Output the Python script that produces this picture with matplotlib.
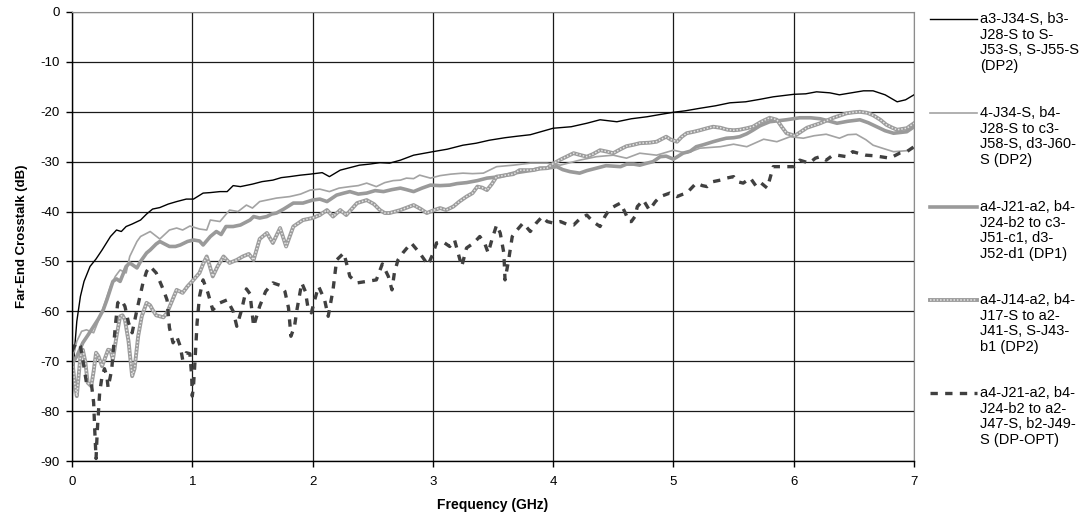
import matplotlib
matplotlib.use("Agg")
import matplotlib.pyplot as plt
from matplotlib.lines import Line2D

plt.rcParams['font.family'] = ['Liberation Sans', 'DejaVu Sans']
plt.rcParams['axes.unicode_minus'] = False

# series: a3-J34-S, b3-J28-S to S-J53-S, S-J55-S (DP2)
f_a = [0, 0.02, 0.04, 0.07, 0.1, 0.15, 0.2, 0.25, 0.32, 0.37, 0.41, 0.45, 0.5, 0.57, 0.62,
       0.67, 0.73, 0.8, 0.87, 0.95, 1.01, 1.09, 1.15, 1.23, 1.29, 1.34, 1.4, 1.5, 1.58, 1.67,
       1.74, 1.81, 1.9, 1.98, 2.08, 2.14, 2.23, 2.31, 2.39, 2.47, 2.56, 2.64, 2.73, 2.84, 3.0,
       3.12, 3.25, 3.36, 3.47, 3.6, 3.7, 3.81, 4.0, 4.15, 4.28, 4.39, 4.53, 4.65, 4.78, 4.9,
       5.0, 5.1, 5.22, 5.35, 5.47, 5.6, 5.72, 5.83, 6.0, 6.1, 6.19, 6.3, 6.38, 6.48, 6.58,
       6.66, 6.76, 6.86, 6.93, 7.0]
db_a = [-78, -68, -62, -57, -54, -51, -49.5, -47.7, -45, -43.7, -44, -43, -42.5, -41.7, -40.5,
        -39.5, -39.2, -38.5, -38, -37.5, -37.5, -36.3, -36.2, -36, -36, -34.8, -35, -34.5, -34, -33.7,
        -33.2, -33, -32.7, -32.5, -32.2, -33, -31.7, -31.2, -30.7, -30.5, -30.2, -30.3, -29.7, -28.7, -28,
        -27.5, -26.7, -26.3, -25.7, -25.2, -24.9, -24.6, -23.3, -23, -22.3, -21.6, -22, -21.4, -21, -20.5,
        -20.1, -19.8, -19.3, -18.8, -18.2, -18, -17.5, -17, -16.5, -16.4, -16, -16.2, -16.6, -16.2, -15.8,
        -15.8, -16.6, -18, -17.6, -16.6]

# series: 4-J34-S, b4-J28-S to c3-J58-S, d3-J60-S (DP2)
f_b = [0, 0.04, 0.08, 0.12, 0.18, 0.25, 0.32, 0.36, 0.4, 0.45, 0.48, 0.54, 0.57, 0.65, 0.73,
       0.81, 0.87, 0.92, 0.98, 1.06, 1.12, 1.15, 1.23, 1.31, 1.38, 1.45, 1.5, 1.56, 1.62, 1.7,
       1.81, 1.9, 1.98, 2.06, 2.14, 2.22, 2.31, 2.38, 2.45, 2.53, 2.6, 2.67, 2.73, 2.78, 2.84,
       2.89, 2.98, 3.06, 3.15, 3.25, 3.33, 3.42, 3.53, 3.67, 3.81, 3.95, 4.06, 4.14, 4.22, 4.36,
       4.5, 4.61, 4.72, 4.86, 5.0, 5.11, 5.22, 5.39, 5.5, 5.61, 5.75, 5.86, 5.97, 6.08, 6.17,
       6.27, 6.38, 6.45, 6.52, 6.6, 6.66, 6.75, 6.83, 6.94, 7.0]
db_b = [-69.7, -66, -64, -63.7, -64.3, -60, -55, -53, -51.7, -52.3, -49, -46, -45, -44, -45.5,
        -43.7, -43.3, -43.7, -42.9, -43.5, -43.7, -41.7, -42, -39.7, -40, -38.7, -39.3, -38, -37.7, -37.3,
        -37, -36.5, -35.7, -35.5, -36, -35.3, -35, -34.8, -34.3, -35, -34.2, -33.8, -33.7, -33.3, -33.4,
        -32.7, -33.3, -32.8, -32.5, -32.3, -32.4, -32.3, -31, -30.7, -30.3, -30.3, -30.7, -30.2, -29.7, -29,
        -28.7, -29.3, -28.3, -28.7, -27.7, -28.3, -27.3, -27, -26.5, -27, -25.5, -26, -25, -25.3, -24.8,
        -24.5, -25.3, -24.6, -24.5, -25.6, -26.7, -27.4, -28, -27.8, -27.3]

# series: a4-J21-a2, b4-J24-b2 to c3-J51-c1, d3-J52-d1 (DP1)
f_c = [0, 0.04, 0.09, 0.14, 0.18, 0.22, 0.26, 0.29, 0.34, 0.37, 0.4, 0.45, 0.48, 0.54, 0.57,
       0.62, 0.65, 0.7, 0.73, 0.77, 0.81, 0.86, 0.9, 0.96, 1.01, 1.06, 1.09, 1.15, 1.2, 1.24,
       1.28, 1.34, 1.4, 1.44, 1.48, 1.51, 1.56, 1.62, 1.66, 1.7, 1.76, 1.84, 1.92, 2.0, 2.06,
       2.12, 2.2, 2.26, 2.31, 2.38, 2.45, 2.52, 2.59, 2.66, 2.73, 2.78, 2.84, 2.91, 2.98, 3.06,
       3.14, 3.2, 3.28, 3.37, 3.45, 3.56, 3.67, 3.75, 3.83, 3.89, 3.95, 4.03, 4.08, 4.14, 4.22,
       4.28, 4.36, 4.44, 4.5, 4.56, 4.61, 4.67, 4.72, 4.78, 4.83, 4.89, 4.94, 5.0, 5.08, 5.14,
       5.19, 5.25, 5.33, 5.39, 5.44, 5.5, 5.55, 5.61, 5.66, 5.72, 5.8, 5.87, 5.94, 6.05, 6.14,
       6.22, 6.3, 6.36, 6.45, 6.55, 6.62, 6.69, 6.76, 6.83, 6.94, 7.0]
db_c = [-70.5, -69, -66.3, -64.5, -63, -61.5, -59.7, -57.7, -54, -53.5, -54, -51, -50.3, -51.3, -50,
        -48.3, -47.7, -46.5, -46, -46.5, -47, -47, -46.7, -46, -45.7, -45.9, -46.7, -45, -44, -44.6,
        -43, -43, -42.7, -42.2, -41.7, -41, -41.3, -41, -40.5, -40.3, -39.5, -38.3, -38.3, -37.7, -37.5,
        -38, -36.7, -36.3, -36, -36.5, -36.3, -35.8, -36, -35.6, -35.3, -35.6, -36, -35.3, -34.7, -34.8,
        -34.7, -34.4, -34.2, -33.8, -33.3, -33, -32.3, -32, -31.7, -31.3, -31.3, -31, -31.6, -32, -32.3,
        -31.8, -31.3, -30.8, -30.9, -31, -30.5, -30.5, -30.7, -30.3, -30, -29, -28.9, -29.5, -28.3, -27.9,
        -27, -26.6, -26, -25.6, -25.3, -25.2, -25, -24.4, -23.7, -22.8, -22, -21.8, -21.6, -21.2, -21.2,
        -21.4, -21.9, -22.3, -21.9, -21.6, -22.2, -23, -23.8, -24.3, -24, -23]

# series: a4-J14-a2, b4-J17-S to a2-J41-S, S-J43-b1 (DP2)
f_d = [0, 0.02, 0.04, 0.055, 0.07, 0.09, 0.11, 0.13, 0.16, 0.18, 0.2, 0.22, 0.25, 0.28, 0.3,
       0.32, 0.34, 0.37, 0.4, 0.42, 0.44, 0.47, 0.5, 0.52, 0.55, 0.58, 0.62, 0.65, 0.67, 0.7,
       0.73, 0.76, 0.79, 0.83, 0.87, 0.92, 0.96, 1.01, 1.06, 1.09, 1.12, 1.14, 1.17, 1.21, 1.26,
       1.31, 1.37, 1.42, 1.47, 1.51, 1.56, 1.62, 1.67, 1.73, 1.78, 1.84, 1.92, 2.0, 2.06, 2.12,
       2.17, 2.23, 2.28, 2.37, 2.45, 2.51, 2.56, 2.6, 2.64, 2.73, 2.84, 2.9, 2.95, 3.0, 3.06,
       3.11, 3.17, 3.22, 3.28, 3.33, 3.37, 3.41, 3.45, 3.49, 3.53, 3.61, 3.67, 3.72, 3.83, 3.89,
       3.95, 4.0, 4.06, 4.12, 4.17, 4.23, 4.28, 4.33, 4.39, 4.45, 4.5, 4.56, 4.61, 4.67, 4.72,
       4.8, 4.86, 4.9, 4.94, 4.98, 5.03, 5.07, 5.11, 5.17, 5.22, 5.28, 5.33, 5.39, 5.45, 5.5,
       5.55, 5.61, 5.66, 5.73, 5.8, 5.86, 5.9, 5.94, 6.01, 6.06, 6.11, 6.17, 6.22, 6.28, 6.33,
       6.39, 6.44, 6.5, 6.55, 6.61, 6.66, 6.72, 6.77, 6.82, 6.86, 6.94, 7.0]
db_d = [-69, -74, -77, -73, -69, -67.7, -70, -74.3, -75, -72, -68.3, -69, -71, -69, -67.7,
        -67.8, -69.7, -65, -61, -60.8, -61.7, -66, -73, -71.5, -65, -61, -58.3, -58.8, -59.7, -60.8,
        -61, -61.2, -60.3, -58, -55.7, -56.3, -55, -53.7, -52.3, -50.5, -49, -50.5, -53, -51, -49,
        -50.3, -49.7, -49, -48.5, -49.7, -45.5, -44.3, -46.3, -43.3, -47, -43, -41.7, -41.3, -40.7, -39.7,
        -41, -39.7, -40.7, -38.3, -37.7, -38.5, -39.7, -40.3, -40.3, -39.7, -38.7, -39.5, -40.3, -39.8, -39.3,
        -39.7, -39, -38, -37, -36.3, -35, -35.2, -35.7, -34.5, -33, -32.7, -32.5, -31.7, -31.7, -31.4,
        -31.3, -30.4, -29.6, -28.9, -28.3, -28.7, -29, -28.5, -27.7, -28, -28.3, -27.5, -26.9, -26.6, -26.3,
        -26.2, -26, -25.5, -25, -25.6, -26, -25, -24.3, -24, -23.7, -23.3, -23, -23.2, -23.6, -23.7,
        -23.6, -23.3, -23, -22, -21.2, -21.6, -23, -24.3, -24.8, -24, -23.2, -22.7, -22.3, -21.7, -21.2,
        -20.7, -20.3, -20.1, -20, -20.2, -20.7, -21.6, -22.6, -23.2, -23.6, -23.3, -22.3]

# series: a4-J21-a2, b4-J24-b2 to a2-J47-S, b2-J49-S (DP-OPT)
f_e = [0, 0.03, 0.05, 0.07, 0.09, 0.12, 0.16, 0.18, 0.19, 0.2, 0.21, 0.22, 0.23, 0.25, 0.27,
       0.29, 0.3, 0.33, 0.36, 0.38, 0.41, 0.44, 0.47, 0.5, 0.54, 0.59, 0.62, 0.65, 0.7, 0.76,
       0.79, 0.81, 0.84, 0.87, 0.9, 0.92, 0.95, 0.98, 0.995, 1.0, 1.01, 1.02, 1.04, 1.06, 1.09,
       1.13, 1.17, 1.23, 1.29, 1.34, 1.37, 1.41, 1.45, 1.48, 1.51, 1.56, 1.61, 1.67, 1.73, 1.77,
       1.8, 1.82, 1.85, 1.87, 1.91, 1.94, 1.96, 1.99, 2.02, 2.05, 2.1, 2.13, 2.17, 2.2, 2.26,
       2.31, 2.37, 2.45, 2.53, 2.58, 2.63, 2.66, 2.68, 2.71, 2.75, 2.82, 2.89, 2.96, 3.0, 3.03,
       3.08, 3.14, 3.18, 3.21, 3.24, 3.28, 3.34, 3.39, 3.43, 3.46, 3.49, 3.53, 3.56, 3.59, 3.6,
       3.63, 3.66, 3.7, 3.75, 3.81, 3.86, 3.91, 3.95, 4.0, 4.06, 4.11, 4.17, 4.22, 4.28, 4.33,
       4.39, 4.43, 4.47, 4.52, 4.56, 4.6, 4.63, 4.65, 4.68, 4.7, 4.75, 4.8, 4.85, 4.89, 4.97,
       5.03, 5.07, 5.11, 5.15, 5.19, 5.24, 5.28, 5.33, 5.39, 5.44, 5.5, 5.53, 5.58, 5.64, 5.69,
       5.73, 5.78, 5.83, 5.9, 5.94, 6.0, 6.05, 6.13, 6.18, 6.22, 6.27, 6.32, 6.36, 6.44, 6.49,
       6.55, 6.6, 6.66, 6.72, 6.8, 6.88, 6.94, 7.0]
db_e = [-68, -66.5, -66.3, -67, -69.7, -74.3, -74.3, -78.3, -84.3, -89.5, -84, -80.3, -76.3, -73, -71.5,
        -73, -75.3, -71.7, -63, -58.3, -57.7, -59, -62.3, -64.3, -59.7, -54.3, -52, -51, -52.3, -55.7,
        -57.7, -63.3, -66.3, -65, -67, -69.7, -68.3, -68.5, -73, -77, -75, -71, -62.3, -57, -53.7,
        -56.3, -59.7, -58.3, -57.7, -60, -63, -59.7, -55.5, -56.5, -63, -59, -56, -54.3, -54.8, -56,
        -59.3, -65, -63, -59.7, -54.3, -56, -59, -60.3, -57.5, -55, -57.7, -61, -55.7, -49.7, -48.3,
        -53, -54.3, -54, -53.7, -50.5, -53, -55.7, -52.3, -49.7, -48.3, -46.3, -48.3, -50.7, -48.5, -46.3,
        -46, -47, -45.7, -48.3, -51, -47.3, -46.3, -45, -46.3, -48.3, -45.7, -42.7, -44.3, -48.3, -53.7,
        -49.7, -45, -43.7, -42.3, -44, -42.3, -41, -42, -42.3, -42, -42.5, -42.7, -41.5, -40.7, -42,
        -43, -41, -39.5, -38.8, -38.3, -40.3, -42, -42, -41, -39, -37.7, -39.7, -38, -37, -36.3,
        -37, -36.6, -36.3, -35.3, -34.3, -34.8, -35, -34, -33.7, -33.3, -33, -34, -34.3, -33.3, -35,
        -34.3, -35.3, -31, -31, -31, -31, -29.7, -30.3, -29.3, -29, -29.7, -28.8, -28.7, -29, -28,
        -28.4, -28.7, -28.8, -29, -29.3, -28.3, -28, -27]

labels = [
    "a3-J34-S, b3-\nJ28-S to S-\nJ53-S, S-J55-S\n(DP2)",
    "4-J34-S, b4-\nJ28-S to c3-\nJ58-S, d3-J60-\nS (DP2)",
    "a4-J21-a2, b4-\nJ24-b2 to c3-\nJ51-c1, d3-\nJ52-d1 (DP1)",
    "a4-J14-a2, b4-\nJ17-S to a2-\nJ41-S, S-J43-\nb1 (DP2)",
    "a4-J21-a2, b4-\nJ24-b2 to a2-\nJ47-S, b2-J49-\nS (DP-OPT)",
]

fig = plt.figure(figsize=(10.92, 5.14), dpi=100, facecolor='white')
ax = fig.add_axes([72 / 1092, 1 - 461 / 514, (914 - 72) / 1092, (461 - 12) / 514])

ax.set_xlim(0, 7)
ax.set_ylim(-90, 0)
ax.set_xticks(range(0, 8))
ax.set_yticks(range(-90, 1, 10))
ax.grid(True, color='#1a1a1a', linewidth=0.9)
ax.set_axisbelow(True)

for side in ['top', 'right']:
    ax.spines[side].set_color('#8c8c8c')
for side in ['left', 'bottom']:
    ax.spines[side].set_color('black')
    ax.spines[side].set_linewidth(1.0)

ax.tick_params(axis='both', direction='out', length=4, width=1, labelsize=9.5)
ax.tick_params(axis='y', pad=5)
ax.tick_params(axis='x', pad=7)

ax.set_xlabel('Frequency (GHz)', fontsize=10, fontweight='bold', labelpad=7)
ax.set_ylabel('Far-End Crosstalk (dB)', fontsize=9.5, fontweight='bold', labelpad=9)

styles = [
    dict(color='black', linewidth=1.0),
    dict(color='#a3a3a3', linewidth=1.2),
    dict(color='#9a9a9a', linewidth=2.6),
    dict(color='#9c9c9c', linewidth=2.8),
    dict(color='#404040', linewidth=2.4, linestyle=(0, (2.2, 2.2))),
]
overlay = dict(color='#e4e4e4', linewidth=1.1, linestyle=(0, (1, 1.2)))

ax.plot(f_a, db_a, **styles[0])
ax.plot(f_b, db_b, **styles[1])
ax.plot(f_c, db_c, **styles[2])
ax.plot(f_d, db_d, **styles[3])
ax.plot(f_d, db_d, **overlay)
ax.plot(f_e, db_e, **styles[4])

# legend drawn on the figure, handle aligned with first text line
x0, x1, xt = 930 / 1092, 977 / 1092, 980 / 1092
tops = [19, 113, 207, 300, 393]
for i, (lab, top) in enumerate(zip(labels, tops)):
    yy = 1 - top / 514
    fig.add_artist(Line2D([x0, x1], [yy, yy], transform=fig.transFigure, **styles[i]))
    if i == 3:
        fig.add_artist(Line2D([x0, x1], [yy, yy], transform=fig.transFigure, **overlay))
    fig.text(xt, yy + 7 / 514, lab, fontsize=10.5, va='top', ha='left', linespacing=1.15,
             transform=fig.transFigure)

fig.savefig('out.png', dpi=100, facecolor='white')
